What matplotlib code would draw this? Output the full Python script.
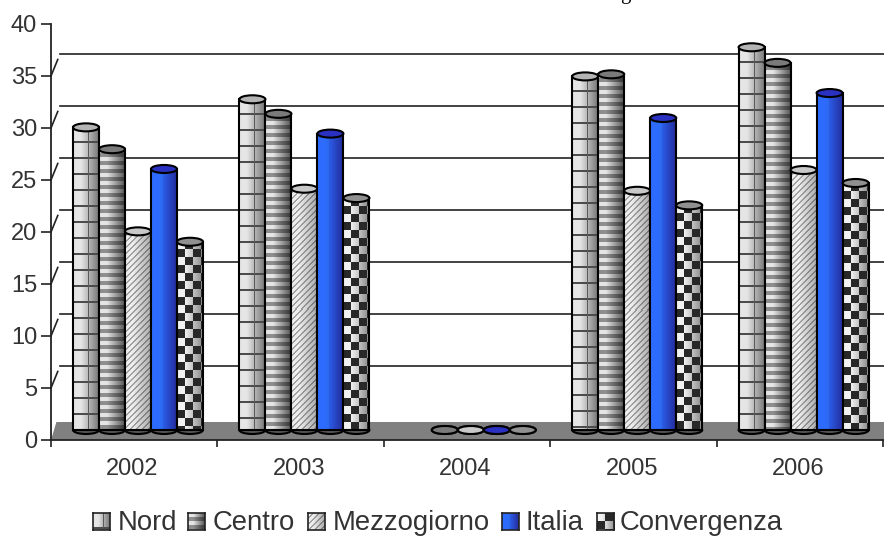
import numpy as np
import matplotlib
matplotlib.use("Agg")
import matplotlib.pyplot as plt
from matplotlib.patches import Ellipse, Rectangle, Polygon

years = ["2002", "2003", "2004", "2005", "2006"]
series = ["Nord", "Centro", "Mezzogiorno", "Italia", "Convergenza"]
nord = [29.1, 31.8, np.nan, 34.0, 36.8]
centro = [27.0, 30.4, 0, 34.2, 35.3]
mezzogiorno = [19.1, 23.2, 0, 23.0, 25.0]
italia = [25.1, 28.5, 0, 30.0, 32.4]
convergenza = [18.1, 22.3, 0, 21.6, 23.75]
yticks = list(range(0, 45, 5))

W, H = 884, 536
plt.rcParams["font.family"] = ["Liberation Sans", "DejaVu Sans"]
fig = plt.figure(figsize=(W / 100, H / 100), dpi=100)


def fx(px):
    return px / W


def fy(py):
    return 1 - py / H


# plot area, px: x 51-883, y 440-24
ax = fig.add_axes([fx(51), fy(440), (883 - 51) / W, (440 - 24) / H])
ax.set_xlim(0, 5)
ax.set_ylim(0, 40)
ux = 832 / 5   # px per category
uy = 416 / 40  # px per value
base = 10 / uy  # bars stand on the floor, not on the axis
bar_w = 26 / ux
wall_dx = 9 / ux
wall_dy = 22 / uy


def shade(w, lo, hi):
    # left to right light falloff of the cylinder
    t = np.linspace(0, 1, w)
    s = np.where(t < 0.3, 1.0, 1.0 - (t - 0.3) / 0.7)
    return lo + (hi - lo) * s


def pattern(name, w, h):
    yy, xx = np.mgrid[0:h, 0:w]
    img = np.zeros((h, w, 3))
    if name == "Nord":
        g = shade(w, 0.48, 0.90)[xx]
        g[yy % 16 >= 14] = 0.30
        g[:, int(w * 0.6)] = 0.35
        img[..., 0] = img[..., 1] = img[..., 2] = g
    elif name == "Centro":
        g = shade(w, 0.35, 0.90)[xx]
        g = np.where(yy % 8 >= 4, g * 0.62, g)
        img[..., 0] = img[..., 1] = img[..., 2] = g
    elif name == "Mezzogiorno":
        g = shade(w, 0.68, 0.93)[xx]
        g = np.where((xx + yy) % 6 >= 4, g * 0.68, g)
        img[..., 0] = img[..., 1] = img[..., 2] = g
    elif name == "Italia":
        s = shade(w, 0, 1)[xx]
        img[..., 0] = 0.14 + 0.04 * s
        img[..., 1] = 0.18 + 0.24 * s
        img[..., 2] = 0.62 + 0.38 * s
        img[xx < w * 0.45, 1] = 0.42
        img[xx < w * 0.2, 2] = 1.0
    else:
        g = shade(w, 0.55, 0.95)[xx]
        g = np.where(((xx // 8) + (yy // 8)) % 2 == 0, g, 0.16)
        img[..., 0] = img[..., 1] = img[..., 2] = g
    return img


top_color = {"Nord": "#b4b4b4", "Centro": "#7a7a7a", "Mezzogiorno": "#c8c8c8",
             "Italia": "#2a30c0", "Convergenza": "#909090"}
values = [nord, centro, mezzogiorno, italia, convergenza]

# floor
ax.add_patch(Polygon([(0, 0), (wall_dx * 0.6, 18 / uy), (5.01, 18 / uy), (5.01, 0)],
                     closed=True, fc="#808080", ec="none", zorder=1, clip_on=False))

# back wall lines and the slanted bits at the axis
for v in yticks[1:-1]:
    ax.plot([wall_dx, 5.01], [v + wall_dy, v + wall_dy], color="#222222", lw=1.2,
            zorder=1, clip_on=False)
    ax.plot([0, wall_dx * 0.75], [v, v + wall_dy * 0.75], color="#222222", lw=1.2,
            zorder=1, clip_on=False)

ell_h = 8 / uy
for s, name in enumerate(series):
    vals = values[s]
    for i, v in enumerate(vals):
        if np.isnan(v):
            continue
        x0 = i + (22 + s * 26) / ux
        z = 3 + s * 0.1
        ax.add_patch(Ellipse((x0 + bar_w / 2, base), bar_w, ell_h, fc="#555555",
                             ec="black", lw=1.5, zorder=z))
        if v > 0:
            h_px = int(round(v * uy))
            ax.imshow(pattern(name, 26, h_px), extent=(x0, x0 + bar_w, base, base + v),
                      aspect="auto", interpolation="nearest", zorder=z)
            ax.add_patch(Rectangle((x0, base), bar_w, v, fc="none", ec="black",
                                   lw=1.5, zorder=z))
        ax.add_patch(Ellipse((x0 + bar_w / 2, base + v), bar_w, ell_h,
                             fc=top_color[name], ec="black", lw=1.5, zorder=z))

ax.set_xlim(0, 5)
ax.set_ylim(0, 40)
ax.set_xticks(range(6))
ax.set_xticklabels([])
ax.set_xticks(np.arange(5) + 0.49, years, minor=True)
ax.set_yticks(yticks)
ax.tick_params(axis="x", which="major", length=5, width=1.2, color="#222222")
ax.tick_params(axis="x", which="minor", length=0, pad=13, labelsize=17, labelcolor="#333333")
ax.tick_params(axis="y", length=7, width=1.2, color="#222222", pad=3, labelsize=17,
               labelcolor="#333333")
for sp in ["top", "right"]:
    ax.spines[sp].set_visible(False)
for sp in ["left", "bottom"]:
    ax.spines[sp].set_linewidth(1.3)
    ax.spines[sp].set_color("#222222")
    ax.spines[sp].set_zorder(6)

# legend, laid out by hand like the original
swatch_x = [93, 188, 308, 502, 597]
label_x = [118, 213, 333, 526, 620]
for name, sx, lx in zip(series, swatch_x, label_x):
    a = fig.add_axes([fx(sx), fy(530), 17 / W, 17 / H])
    a.imshow(pattern(name, 17, 17), aspect="auto", interpolation="nearest")
    a.set_xticks([])
    a.set_yticks([])
    for sp in a.spines.values():
        sp.set_linewidth(1.2)
        sp.set_color("#222222")
    fig.text(fx(lx), fy(530), name, fontsize=19.8, color="#333333", ha="left", va="baseline")

# what is left of the cropped title
fig.text(fx(620), fy(-1), "g", family="Liberation Serif", fontsize=15, color="black",
         ha="left", va="baseline")

fig.savefig("out.png", dpi=100)
